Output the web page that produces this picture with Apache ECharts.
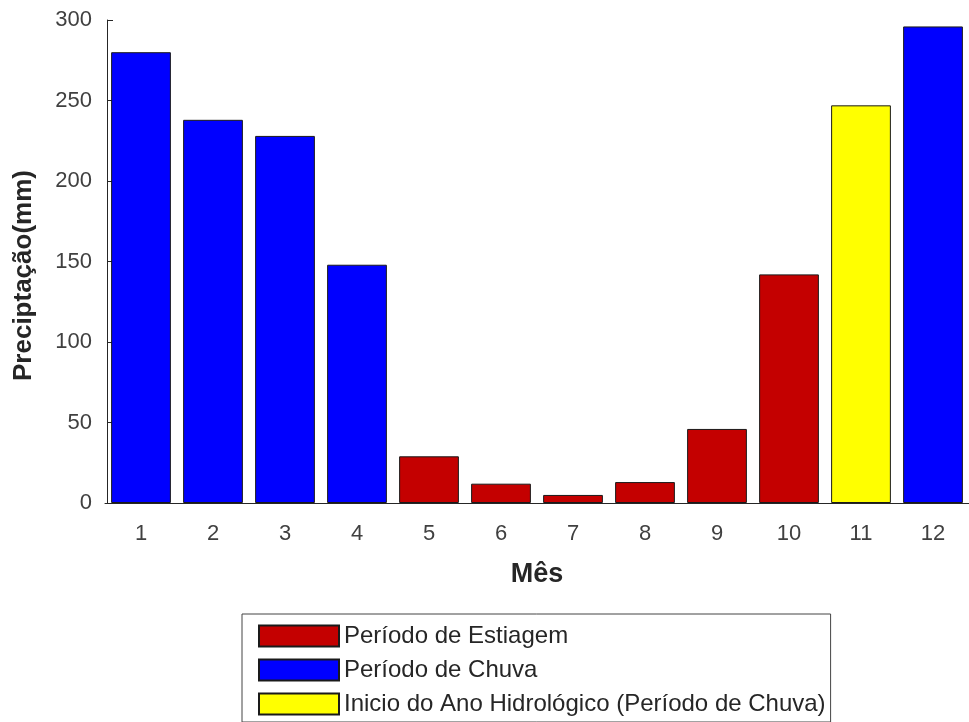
<!DOCTYPE html>
<html>
<head>
<meta charset="utf-8">
<script src="https://cdn.jsdelivr.net/npm/echarts@6/dist/echarts.min.js"></script>
<style>html,body{margin:0;padding:0;background:#fff}#c{width:969px;height:722px}</style>
</head>
<body>
<div id="c"></div>
<script>
const months = ['1','2','3','4','5','6','7','8','9','10','11','12'];
const precip = [280, 238, 228, 148, 29, 12, 5, 13, 46, 142, 247, 296];
// period per month: 'dry' = estiagem, 'wet' = chuva, 'start' = início do ano hidrológico
const period = ['wet','wet','wet','wet','dry','dry','dry','dry','dry','dry','start','wet'];
const yTicks = [0, 50, 100, 150, 200, 250, 300];
const seriesNames = {
  dry: 'Período de Estiagem',
  wet: 'Período de Chuva',
  start: 'Inicio do Ano Hidrológico (Período de Chuva)'
};
const colors = { dry: '#c40000', wet: '#0000ff', start: '#ffff00' };

function pick(key) {
  return precip.map((v, i) => period[i] === key ? v : null);
}
const order = ['dry', 'wet', 'start'];
const series = order.map(k => ({
  name: seriesNames[k],
  type: 'bar',
  data: pick(k),
  barWidth: '83%',
  barGap: '-100%',
  itemStyle: { color: colors[k], borderColor: '#1a1a1a', borderWidth: 1 },
  animation: false
}));

const font = 'Liberation Sans, Arial, sans-serif';
const chart = echarts.init(document.getElementById('c'));
chart.setOption({
  animation: false,
  grid: { left: 105, top: 20, width: 869, bottom: 219 },
  xAxis: {
    type: 'category',
    data: months,
    name: 'Mês',
    nameLocation: 'middle',
    nameGap: 58,
    nameTextStyle: { fontFamily: font, fontSize: 27, fontWeight: 'bold', color: '#262626' },
    axisLine: { lineStyle: { color: '#262626', width: 1 } },
    axisTick: { show: false },
    axisLabel: { margin: 20, fontFamily: font, fontSize: 22, color: '#404040' }
  },
  yAxis: {
    type: 'value',
    offset: -2,
    min: yTicks[0],
    max: yTicks[yTicks.length - 1],
    interval: yTicks[1] - yTicks[0],
    name: 'Preciptação(mm)',
    nameLocation: 'middle',
    nameRotate: 90,
    nameGap: 70,
    nameTextStyle: { fontFamily: font, fontSize: 26, fontWeight: 'bold', color: '#262626', padding: [0, 28, 0, 0] },
    axisLine: { show: true, lineStyle: { color: '#262626', width: 1 } },
    axisTick: { show: true, inside: true, length: 6, lineStyle: { color: '#262626' } },
    splitLine: { show: false },
    axisLabel: { margin: 15, fontFamily: font, fontSize: 22, color: '#404040' }
  },
  legend: {
    orient: 'vertical',
    left: 242,
    top: 614,
    height: 110,
    itemWidth: 80,
    itemHeight: 21,
    itemGap: 10,
    padding: [10, 5, 6, 16],
    borderColor: '#444',
    borderWidth: 1,
    backgroundColor: '#fff',
    selectedMode: false,
    icon: 'rect',
    textStyle: { fontFamily: font, fontSize: 24, color: '#262626' },
    data: order.map(k => seriesNames[k])
  },
  series: series
});
</script>
</body>
</html>
